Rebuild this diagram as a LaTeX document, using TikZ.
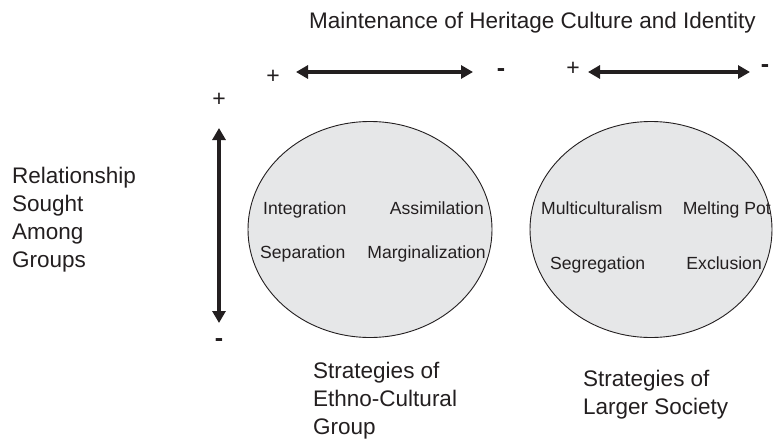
\documentclass[tikz,border=0pt]{standalone}
\usepackage{fontspec}
\setmainfont{Liberation Sans}
\usetikzlibrary{arrows.meta}
\definecolor{ink}{HTML}{231F20}
\definecolor{shade}{HTML}{E6E7E8}
\begin{document}
\begin{tikzpicture}[x=1pt,y=-1pt,
  big/.style={inner sep=0pt, text=ink, font=\fontsize{22.5}{27.7}\selectfont},
  small/.style={inner sep=0pt, text=ink, font=\fontsize{17.6}{21}\selectfont},
  sign/.style={inner sep=0pt, text=ink, font=\fontsize{23}{27}\selectfont},
  minus/.style={inner sep=0pt, text=ink, font=\fontsize{25}{30}\selectfont\bfseries},
  dbl/.style={draw=ink, line width=4pt, {Triangle[length=12pt,width=13pt]}-{Triangle[length=12pt,width=13pt]}},
  oval/.style={draw=ink, fill=shade, line width=0.9pt}
]
\useasboundingbox (0,0) rectangle (773,442);
\fill[white] (0,0) rectangle (773,442);

% ellipses
\draw[oval] (370,229.5) ellipse [x radius=122, y radius=108];
\draw[oval] (651,229.5) ellipse [x radius=121, y radius=108];

% title
\node[big, anchor=base west] (title) at (309,28) {Maintenance of Heritage Culture and Identity};

% top arrows
\coordinate (a1l) at (296,72);
\coordinate (a1r) at (473,72);
\coordinate (a2l) at (588,72);
\coordinate (a2r) at (750,72);
\draw[dbl] (a1l) -- (a1r);
\draw[dbl] (a2l) -- (a2r);
\node[sign] (p1) at (273,77) {+};
\node[minus] (m1) at (501,73) {-};
\node[sign] (p2) at (573,69) {+};
\node[minus] (m2) at (765,69) {-};

% vertical arrow
\coordinate (vt) at (219,128);
\coordinate (vb) at (219,323);
\draw[dbl] (vt) -- (vb);
\node[sign] (p3) at (219,100) {+};
\node[minus] (m3) at (219,343) {-};

% left label
\node[big, anchor=base west] (l1) at (12,183) {Relationship};
\node[big, anchor=base west] (l2) at (12,211) {Sought};
\node[big, anchor=base west] (l3) at (12,239) {Among};
\node[big, anchor=base west] (l4) at (12,267) {Groups};

% inner labels, left ellipse
\node[small, anchor=base west] (integ) at (263,214) {Integration};
\node[small, anchor=base east] (assim) at (484,214) {Assimilation};
\node[small, anchor=base west] (separ) at (260,258) {Separation};
\node[small, anchor=base east] (margi) at (486,258) {Marginalization};

% inner labels, right ellipse
\node[small, anchor=base west] (multi) at (541,214) {Multiculturalism};
\node[small, anchor=base east] (melt) at (771,214) {Melting Pot};
\node[small, anchor=base west] (segr) at (550,269) {Segregation};
\node[small, anchor=base east] (excl) at (762,269) {Exclusion};

% bottom labels
\node[big, anchor=base west] (b1) at (313,378) {Strategies of};
\node[big, anchor=base west] (b2) at (313,406) {Ethno-Cultural};
\node[big, anchor=base west] (b3) at (313,434) {Group};
\node[big, anchor=base west] (c1) at (583,386) {Strategies of};
\node[big, anchor=base west] (c2) at (583,414) {Larger Society};
\end{tikzpicture}
\end{document}
